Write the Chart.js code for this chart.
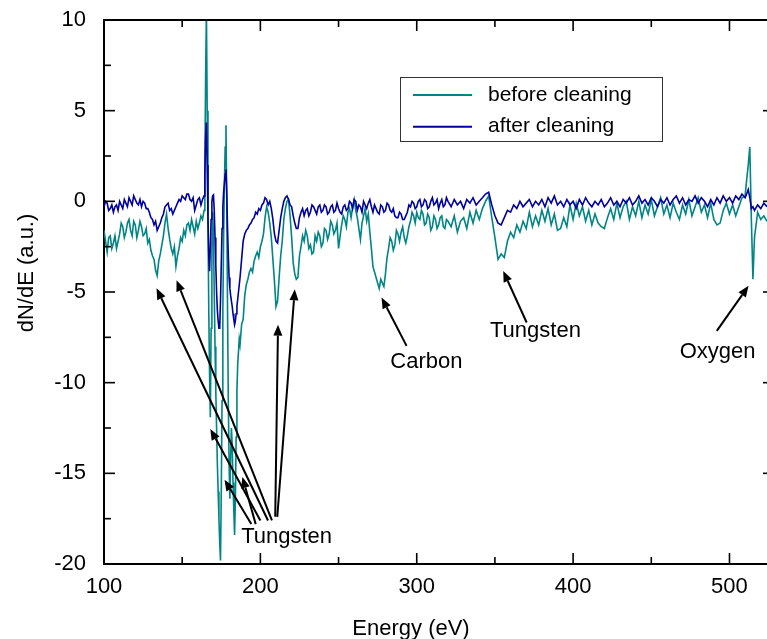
<!DOCTYPE html>
<html lang="en">
<head>
<meta charset="UTF-8">
<title>Auger spectrum before and after cleaning</title>
<script src="https://cdn.jsdelivr.net/npm/chart.js"></script>
<style>
  html, body { margin: 0; padding: 0; background: #fff; }
  #wrap { width: 767px; height: 639px; }
</style>
</head>
<body>
<div id="wrap"><canvas id="aes" width="767" height="639"></canvas></div>
<script>
// Energy axis (eV): 1 eV steps, 0.5 eV through the sharp tungsten peaks, 2 eV above 320 eV
const energy = [
  100, 101, 102, 103, 104, 105, 106, 107, 108, 109, 110, 111, 112, 113, 114, 115,
  116, 117, 118, 119, 120, 121, 122, 123, 124, 125, 126, 127, 128, 129, 130,
  131, 132, 133, 134, 135, 136, 137, 138, 139, 140, 141, 142, 143, 144, 145,
  146, 147, 148, 149, 150, 151, 152, 153, 154, 155, 156, 157, 158, 159, 160,
  161, 162, 163, 164, 164.5, 165, 165.5, 166, 166.5, 167, 167.5, 168, 168.5, 169, 169.5,
  170, 170.5, 171, 171.5, 172, 172.5, 173, 173.5, 174, 174.5, 175, 175.5, 176, 176.5,
  177, 177.5, 178, 178.5, 179, 179.5, 180, 180.5, 181, 181.5, 182, 182.5, 183, 183.5,
  184, 184.5, 185, 185.5, 186, 186.5, 187, 188, 189, 190,
  191, 192, 193, 194, 195, 196, 197, 198, 199, 200,
  201, 202, 203, 204, 205, 206, 207, 208, 209, 210,
  211, 212, 213, 214, 215, 216, 217, 218, 219, 220,
  221, 222, 223, 224, 225, 226, 227, 228, 229, 230,
  231, 232, 233, 234, 235, 236, 237, 238, 239, 240,
  241, 242, 243, 244, 245, 246, 247, 248, 249, 250,
  251, 252, 253, 254, 255, 256, 257, 258, 259, 260,
  261, 262, 263, 264, 265, 266, 267, 268, 269, 270,
  271, 272, 273, 274, 275, 276, 277, 278, 279, 280,
  281, 282, 283, 284, 285, 286, 287, 288, 289, 290,
  291, 292, 293, 294, 295, 296, 297, 298, 299, 300,
  301, 302, 303, 304, 305, 306, 307, 308, 309, 310,
  311, 312, 313, 314, 315, 316, 317, 318, 319, 320,
  322, 324, 326, 328, 330, 332, 334, 336, 338, 340, 342, 344, 346, 348, 350,
  352, 354, 356, 358, 360, 362, 364, 366, 368, 370,
  372, 374, 376, 378, 380, 382, 384, 386, 388, 390,
  392, 394, 396, 398, 400, 402, 404, 406, 408, 410,
  412, 414, 416, 418, 420, 422, 424, 426, 428, 430,
  432, 434, 436, 438, 440, 442, 444, 446, 448, 450,
  452, 454, 456, 458, 460, 462, 464, 466, 468, 470,
  472, 474, 476, 478, 480, 482, 484, 486, 488, 490,
  492, 494, 496, 498, 500, 502, 504, 506, 508,
  510, 511, 512, 513, 514, 515, 516, 518, 520, 522, 524
];

// dN/dE (a.u.) before cleaning
const beforeCleaning = [
  -1.6, -2.2, -2.8, -2.0, -1.9, -2.6, -2.3, -1.9, -2.6, -2.2, -1.8, -1.2, -1.4, -2.0, -1.7, -1.2,
  -1.0, -1.6, -1.9, -1.1, -1.3, -2.0, -1.6, -1.1, -1.4, -1.9, -1.8, -1.5, -2.3, -2.1, -2.7,
  -3.0, -3.2, -3.8, -4.1, -3.3, -2.9, -2.4, -1.9, -1.2, -0.7, -1.5, -2.1, -2.6, -2.9, -2.5,
  -3.6, -3.0, -2.6, -2.0, -2.2, -1.6, -1.9, -1.3, -1.2, -1.6, -1.0, -1.4, -1.8, -1.1, -1.5,
  -1.2, -0.8, -1.0, -0.5, 2.0, 7.0, 10.5, 5.0, -1.0, -6.0, -9.5, -11.9, -7.0, -2.5, -0.6,
  -2.0, -5.0, -8.0, -10.5, -12.5, -14.5, -16.0, -17.5, -18.8, -19.8, -16.0, -11.0, -6.0, -2.0,
  1.0, 3.0, 4.2, 0.0, -6.0, -11.0, -14.5, -16.4, -14.0, -12.5, -13.5, -15.5, -17.0, -18.4,
  -16.5, -13.0, -10.5, -9.0, -8.3, -7.6, -7.9, -6.8, -6.5, -5.2,
  -4.6, -4.3, -3.9, -3.7, -3.9, -3.3, -3.0, -2.8, -3.1, -2.5,
  -2.2, -1.8, -0.9, -0.3, -0.6, -1.2, -2.0, -3.2, -4.4, -5.8,
  -5.5, -4.2, -3.0, -2.2, -1.0, -0.4, 0.0, 0.1, -0.8, -2.0,
  -3.4, -4.0, -4.3, -4.2, -3.0, -2.5, -1.9, -2.2, -1.6, -1.9,
  -2.6, -2.4, -2.9, -2.8, -1.9, -2.2, -1.7, -1.9, -2.5, -2.3,
  -1.5, -1.6, -2.1, -1.8, -1.1, -1.3, -1.8, -1.6, -1.2, -2.6,
  -1.9, -1.3, -0.8, -1.0, -1.4, -0.6, -0.4, -0.9, -0.3, 0.1,
  -0.5, -0.9, -1.5, -2.1, -1.2, -0.8, -0.4, -1.1, -0.7, -1.7,
  -2.6, -3.6, -3.9, -4.2, -4.5, -4.8, -4.3, -4.5, -4.7, -4.0,
  -3.1, -2.6, -2.0, -2.2, -2.7, -2.4, -1.6, -1.8, -2.2, -1.7,
  -1.4, -2.0, -2.3, -1.9, -1.4, -1.1, -0.6, -0.8, -1.2, -0.6,
  -0.9, -1.0, -0.5, -0.7, -1.3, -1.2, -0.7, -0.9, -1.6, -1.4,
  -0.8, -1.0, -1.5, -1.3, -0.9, -0.8, -1.4, -1.5, -1.0, -1.1,
  -1.4, -0.8, -1.7, -1.1, -0.9, -1.5, -0.6, -1.2, -0.5, -1.0, -0.4, 0.0, 0.3, -0.9, -2.0,
  -3.2, -2.9, -3.1, -2.2, -1.7, -2.0, -1.3, -1.7, -1.1, -1.5,
  -0.6, -1.4, -0.8, -1.3, -0.5, -1.1, -0.4, -1.3, -0.7, -1.6,
  -1.5, -0.9, -1.4, -0.2, -1.0, -0.1, -0.8, -0.3, -1.1, -0.5,
  -1.3, -0.7, -1.2, -1.4, -1.5, -0.9, -0.4, -1.0, -0.1, -0.9,
  -0.3, 0.0, -1.0, -0.3, -0.8, 0.0, -0.9, -0.2, -0.7, 0.1,
  -0.8, -0.3, 0.2, -0.7, -0.2, -0.9, -0.1, -0.6, -1.0, -0.2,
  -0.7, 0.1, -0.8, -0.3, 0.2, -0.6, -0.2, -0.9, -0.1, -1.0,
  -1.3, -1.2, -0.5, -0.1, -0.7, -0.2, -0.8, -0.3, 0.2,
  0.3, 1.2, 2.0, 3.0, -1.0, -4.3, -2.0, -0.6, -1.0, -0.8, -1.1
];

// dN/dE (a.u.) after cleaning
const afterCleaning = [
  -0.3, 0.0, -0.1, -0.5, -0.4, -0.2, -0.6, -0.3, -0.2, -0.5, 0.0, -0.2, -0.4, 0.1, -0.1, -0.3,
  0.2, 0.0, -0.2, 0.3, 0.1, -0.1, -0.2, 0.1, -0.3, 0.0, -0.1, -0.4, -0.4, -0.6, -0.9,
  -1.0, -1.3, -1.1, -1.6, -1.4, -1.2, -0.9, -0.7, -0.3, -0.2, -0.1, -0.5, -0.4, -0.7, -0.5,
  -0.3, -0.1, 0.1, 0.0, 0.3, 0.2, 0.1, 0.4, 0.4, 0.1, 0.0, 0.2, -0.5, -0.2, 0.1,
  0.2, -0.2, 0.1, 0.3, 1.5, 3.5, 4.35, 2.0, -1.0, -3.0, -3.85, -2.5, -1.0, 0.0, 0.3,
  0.35, -0.5, -2.0, -3.5, -5.0, -6.0, -6.6, -7.0, -7.0, -5.5, -3.5, -1.5, -0.3, 0.5,
  1.0, 1.5, 1.75, 0.5, -1.5, -3.0, -4.2, -4.8, -5.2, -5.5, -5.8, -6.2, -6.5, -6.8,
  -6.6, -6.2, -5.8, -5.4, -5.0, -4.6, -4.2, -3.2, -2.2, -1.8,
  -1.6, -1.5, -1.3, -1.2, -1.0, -0.9, -0.6, -0.7, -0.4, -0.5,
  -0.2, -0.1, 0.2, 0.1, -0.2, 0.0, -0.4, -1.0, -1.8, -2.2,
  -2.3, -1.6, -0.9, -0.4, 0.0, 0.2, 0.3, 0.1, -0.2, -0.3,
  -0.8, -1.2, -1.5, -1.5, -0.9, -0.6, -0.4, -0.8, -0.5, -0.4,
  -0.8, -0.6, -0.2, -0.3, -0.5, -0.7, -0.3, -0.2, -0.6, -0.5,
  -0.2, -0.3, -0.7, -0.6, -0.3, -0.2, -0.6, -0.5, -0.1, -0.4,
  -0.6, -0.7, -0.3, -0.2, -0.5, -0.4, 0.0, -0.1, -0.4, 0.1,
  0.0, -0.5, -0.2, -0.3, -0.6, 0.0, -0.2, -0.4, -0.1, 0.1,
  -0.3, -0.6, -0.2, -0.4, -0.6, -0.7, -0.2, -0.3, -0.6, -0.5,
  -0.1, -0.2, -0.5, -0.6, -0.4, -0.8, -0.9, -0.9, -0.6, -0.7,
  -1.0, -1.0, -0.8, -0.6, -0.2, -0.3, 0.0, -0.1, -0.4, -0.3,
  0.0, 0.1, -0.3, -0.2, 0.1, 0.0, -0.4, -0.3, 0.0, 0.2,
  -0.2, -0.1, 0.1, -0.4, -0.1, 0.1, -0.3, -0.2, 0.2, 0.0,
  -0.3, 0.1, -0.2, 0.0, -0.4, 0.1, -0.1, 0.2, -0.2, 0.0, 0.2, 0.4, 0.5, -0.2, -0.8,
  -1.2, -1.3, -0.9, -0.5, -0.6, -0.2, -0.4, 0.0, -0.3, -0.1,
  0.1, -0.3, 0.0, -0.2, 0.1, -0.3, 0.2, -0.1, 0.3, -0.2,
  0.0, -0.3, 0.1, -0.2, 0.0, -0.4, 0.1, -0.2, 0.2, -0.1,
  -0.3, 0.0, -0.2, 0.1, -0.3, -0.1, 0.2, -0.2, 0.0, -0.3,
  0.1, -0.1, 0.2, -0.2, 0.0, 0.3, -0.1, 0.1, -0.2, 0.2,
  0.0, -0.3, 0.1, -0.1, 0.2, -0.2, 0.1, 0.3, -0.1, 0.2,
  -0.2, 0.1, 0.0, 0.3, -0.1, 0.2, 0.0, -0.3, 0.1, -0.2,
  0.2, -0.1, 0.3, 0.0, 0.2, -0.1, 0.3, 0.1, 0.4,
  0.2, 0.4, 0.65, 0.2, -0.4, -0.3, -0.5, -0.2, -0.4, -0.1, -0.3
];

const seriesNames = ['before cleaning', 'after cleaning'];
const seriesColors = ['#008484', '#00009c'];

const xTicks = [100, 200, 300, 400, 500];
const xMinorTicks = [150, 250, 350, 450];
const yTicks = [-20, -15, -10, -5, 0, 5, 10];
const yMinorTicks = [-17.5, -12.5, -7.5, -2.5, 2.5, 7.5];

// peak labels; arrows as [tailE, tailY, headE, headY] in data units
const tungstenArrows = [
  [204.9, -17.6, 133.6, -4.8],
  [207.4, -17.6, 146.4, -4.35],
  [200.0, -17.6, 168.0, -12.55],
  [194.2, -17.8, 177.1, -15.35],
  [197.0, -17.8, 188.5, -15.2],
  [209.5, -17.4, 211.3, -6.8],
  [210.8, -17.4, 222.0, -4.85]
];
const peakLabels = [
  { text: 'Tungsten', e: 216.8, y: -18.85, arrows: tungstenArrows },
  { text: 'Carbon', e: 306.2, y: -9.2, arrows: [[293.5, -7.97, 277.5, -5.3]] },
  { text: 'Tungsten', e: 375.9, y: -7.5, arrows: [[370.3, -6.68, 355.3, -3.84]] },
  { text: 'Oxygen', e: 492.4, y: -8.65, arrows: [[491.9, -7.14, 512.2, -4.66]] }
];

const FONT = "'Liberation Sans', Arial, sans-serif";

// frame, inward ticks, titles, legend and arrows
const decorations = {
  id: 'decorations',
  afterDraw(chart) {
    const { ctx, chartArea: a, scales: { x, y } } = chart;
    ctx.save();
    ctx.strokeStyle = '#000';
    ctx.fillStyle = '#000';

    ctx.lineWidth = 2;
    ctx.beginPath();
    ctx.moveTo(a.left - 1, a.top);
    ctx.lineTo(a.right, a.top);
    ctx.stroke();

    ctx.lineWidth = 1.6;
    const seg = (x1, y1, x2, y2) => {
      ctx.beginPath(); ctx.moveTo(x1, y1); ctx.lineTo(x2, y2); ctx.stroke();
    };
    xTicks.forEach(v => {
      const px = x.getPixelForValue(v);
      seg(px, a.bottom, px, a.bottom - 11);
      seg(px, a.top, px, a.top + 11);
    });
    xMinorTicks.forEach(v => {
      const px = x.getPixelForValue(v);
      seg(px, a.bottom, px, a.bottom - 7);
      seg(px, a.top, px, a.top + 7);
    });
    yTicks.forEach(v => {
      const py = y.getPixelForValue(v);
      seg(a.left, py, a.left + 11, py);
      seg(a.right, py, a.right - 4, py);
    });
    yMinorTicks.forEach(v => {
      const py = y.getPixelForValue(v);
      seg(a.left, py, a.left + 7, py);
    });

    // axis titles
    ctx.font = '22px ' + FONT;
    ctx.textAlign = 'center';
    ctx.textBaseline = 'alphabetic';
    ctx.fillText('Energy (eV)', 411, 635);
    ctx.save();
    ctx.translate(33, 273);
    ctx.rotate(-Math.PI / 2);
    ctx.fillText('dN/dE (a.u.)', 0, 0);
    ctx.restore();

    // peak labels and arrows
    peakLabels.forEach(p => {
      ctx.fillText(p.text, x.getPixelForValue(p.e), y.getPixelForValue(p.y));
      p.arrows.forEach(([e0, y0, e1, y1]) => {
        const x0 = x.getPixelForValue(e0), yy0 = y.getPixelForValue(y0);
        const x1 = x.getPixelForValue(e1), yy1 = y.getPixelForValue(y1);
        const ang = Math.atan2(yy1 - yy0, x1 - x0);
        const len = 11, half = 4.5;
        const bx = x1 - len * Math.cos(ang), by = yy1 - len * Math.sin(ang);
        ctx.lineWidth = 2;
        seg(x0, yy0, bx, by);
        ctx.beginPath();
        ctx.moveTo(x1, yy1);
        ctx.lineTo(bx + half * Math.sin(ang), by - half * Math.cos(ang));
        ctx.lineTo(bx - half * Math.sin(ang), by + half * Math.cos(ang));
        ctx.closePath();
        ctx.fill();
      });
    });

    // legend
    ctx.lineWidth = 1;
    ctx.strokeStyle = '#333';
    ctx.fillStyle = '#fff';
    ctx.fillRect(400.5, 77.5, 262, 64);
    ctx.strokeRect(400.5, 77.5, 262, 64);
    ctx.font = '21px ' + FONT;
    ctx.textAlign = 'left';
    ctx.textBaseline = 'middle';
    seriesNames.forEach((name, i) => {
      const ly = 95 + i * 31.7;
      ctx.strokeStyle = seriesColors[i];
      ctx.lineWidth = 2;
      seg(413, ly, 472, ly);
      ctx.fillStyle = '#000';
      ctx.fillText(name, 488, ly);
    });
    ctx.restore();
  }
};

const ctx = document.getElementById('aes').getContext('2d');
new Chart(ctx, {
  type: 'line',
  data: {
    datasets: [
      {
        label: seriesNames[1],
        data: energy.map((e, i) => ({ x: e, y: afterCleaning[i] })),
        borderColor: seriesColors[1],
        borderWidth: 1.6,
        pointRadius: 0,
        tension: 0
      },
      {
        label: seriesNames[0],
        data: energy.map((e, i) => ({ x: e, y: beforeCleaning[i] })),
        borderColor: seriesColors[0],
        borderWidth: 1.6,
        pointRadius: 0,
        tension: 0
      }
    ]
  },
  options: {
    responsive: false,
    animation: false,
    layout: { padding: { top: 20, right: 0, left: 0, bottom: 0 } },
    plugins: { legend: { display: false }, tooltip: { enabled: false } },
    scales: {
      x: {
        type: 'linear',
        min: 100,
        max: 524,
        afterFit: s => { s.height = 75; s.paddingLeft = 0; s.paddingRight = 0; },
        afterBuildTicks: s => { s.ticks = xTicks.map(v => ({ value: v })); },
        grid: { display: false, drawTicks: false },
        border: { display: true, color: '#000', width: 2 },
        ticks: { padding: 10, color: '#000', font: { family: FONT, size: 22 } }
      },
      y: {
        type: 'linear',
        min: -20,
        max: 10,
        afterFit: s => { s.width = 104; s.paddingTop = 0; s.paddingBottom = 0; },
        afterBuildTicks: s => { s.ticks = yTicks.map(v => ({ value: v })); },
        grid: { display: false, drawTicks: false },
        border: { display: true, color: '#000', width: 2 },
        ticks: { padding: 18, color: '#000', font: { family: FONT, size: 22 } }
      }
    }
  },
  plugins: [decorations]
});
</script>
</body>
</html>
